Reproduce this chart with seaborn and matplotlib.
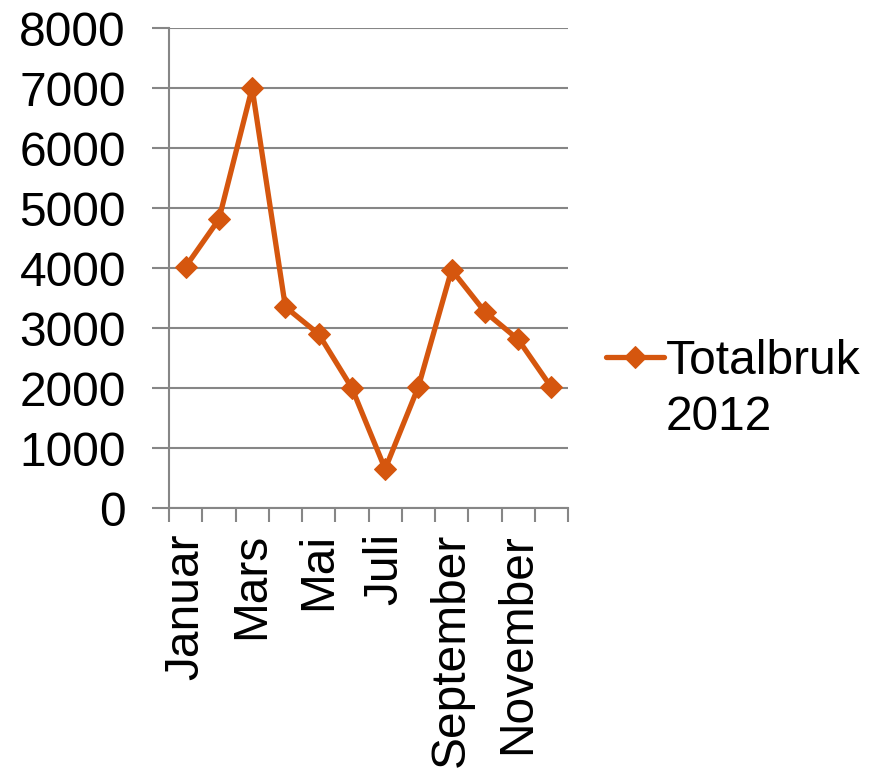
import numpy as np
import pandas as pd
import seaborn as sns
import matplotlib.pyplot as plt

# -----------------------------------------------------------------------------
# Data
# -----------------------------------------------------------------------------
months = ["Januar", "Februar", "Mars", "April", "Mai", "Juni",
          "Juli", "August", "September", "Oktober", "November", "Desember"]
values = [4020, 4810, 7000, 3350, 2900, 2000, 650, 2020, 3970, 3270, 2810, 2010]
series_name = "Totalbruk"
series_year = "2012"

df = pd.DataFrame({"pos": np.arange(len(months)), "value": values, "serie": series_name})

# -----------------------------------------------------------------------------
# Plot
# -----------------------------------------------------------------------------
sns.set_style("white")
plt.rcParams['font.family'] = ['Liberation Sans', 'DejaVu Sans']
plt.rcParams['text.color'] = 'black'

grey = "#868686"
orange = "#D5560E"
fs = 34.5

fig = plt.figure(figsize=(8.89, 7.71), dpi=100)
ax = fig.add_axes([169 / 889, 1 - 508 / 771, (568 - 169) / 889, (508 - 28) / 771])

sns.lineplot(data=df, x="pos", y="value", hue="serie", palette=[orange],
             marker="D", markersize=11.5, markeredgecolor=orange,
             linewidth=3.8, ax=ax)

ax.set_xlim(-0.5, len(months) - 0.5)
ax.set_ylim(0, 8000)
ax.set_yticks(np.arange(0, 8001, 1000))
ax.yaxis.grid(True, color=grey, linewidth=1.5)
ax.set_axisbelow(True)

# tick marks between categories, labels on every other category
ax.set_xticks(np.arange(-0.5, len(months), 1))
ax.set_xticklabels([])
ax.set_xticks(np.arange(0, len(months), 2), minor=True)
ax.set_xticklabels(months[::2], minor=True, rotation=90, va="top", ha="center")
ax.tick_params(axis="x", which="major", bottom=True, length=10, width=1.5,
               color=grey, direction="out")
ax.tick_params(axis="x", which="minor", bottom=True, length=0, pad=18,
               labelsize=fs, labelcolor="black")
ax.tick_params(axis="y", left=True, length=12, width=1.5, color=grey,
               direction="out", pad=19, labelsize=fs, labelcolor="black")

for side in ["top", "right"]:
    ax.spines[side].set_visible(False)
for side in ["left", "bottom"]:
    ax.spines[side].set_color(grey)
    ax.spines[side].set_linewidth(1.5)

ax.set_xlabel("")
ax.set_ylabel("")

leg = ax.legend(loc="center left", bbox_to_anchor=(606 / 889, 1 - 361 / 771),
                bbox_transform=fig.transFigure, frameon=False, fontsize=fs,
                handlelength=1.2, handletextpad=0.05, borderaxespad=0,
                borderpad=0)

# second line of the legend label, under the first one
fig.canvas.draw()
tb = leg.get_texts()[0].get_window_extent()
x0, y0 = fig.transFigure.inverted().transform((tb.x0, tb.y0))
fig.text(x0, y0 - 0.015, series_year, fontsize=fs, va="top", ha="left")

fig.savefig("out.png", dpi=100)
